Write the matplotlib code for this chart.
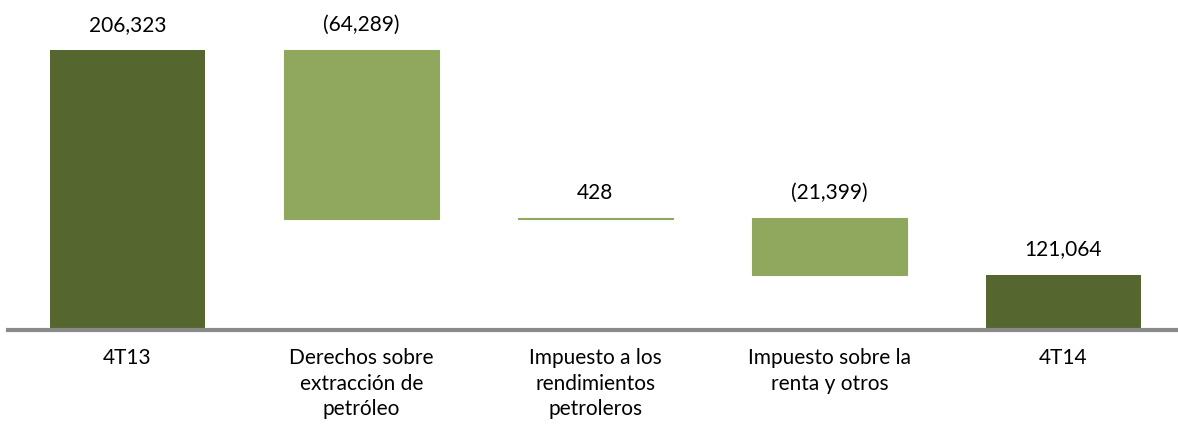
import numpy as np
import matplotlib.pyplot as plt

plt.rcParams['font.family'] = ['Lato', 'DejaVu Sans']

# Data
categories = ['4T13', 'Derechos sobre\nextracción de\npetróleo',
              'Impuesto a los\nrendimientos\npetroleros',
              'Impuesto sobre la\nrenta y otros', '4T14']
start_value = 206323
changes = [-64289, 428, -21399]
end_value = 121064

dark = '#55672F'
light = '#8FA85D'

fig = plt.figure(figsize=(11.78, 4.28), dpi=100)
ax = fig.add_axes([8 / 1178, 98 / 428, 1 - 8 / 1178, 330 / 428])

x = np.arange(len(categories))
w = 0.66

# totals
ax.bar(x[0], start_value - 100000, bottom=100000, width=w, color=dark)
ax.bar(x[-1], end_value - 100000, bottom=100000, width=w, color=dark)

# changes
level = start_value
tops = [start_value]
for i, d in enumerate(changes):
    lo = min(level, level + d)
    ax.bar(x[i + 1], abs(d), bottom=lo, width=w, color=light,
           edgecolor=light, linewidth=0.8)
    tops.append(max(level, level + d))
    level += d
tops.append(end_value)

def fmt(v):
    return f'({abs(v):,})' if v < 0 else f'{v:,}'

labels = [fmt(start_value)] + [fmt(d) for d in changes] + [fmt(end_value)]
for xi, t, lab in zip(x, tops, labels):
    ax.annotate(lab, (xi, t), xytext=(0, 11), textcoords='offset points',
                ha='center', va='bottom', fontsize=15)

ax.set_xlim(-0.51, 4.49)
ax.set_ylim(100000, 225330)
ax.set_yticks([])
ax.set_xticks(x)
ax.set_xticklabels(categories, fontsize=15, linespacing=1.35)
ax.tick_params(axis='x', length=0, pad=13)
for s in ['top', 'right', 'left']:
    ax.spines[s].set_visible(False)
ax.spines['bottom'].set_color('#8A8A8A')
ax.spines['bottom'].set_linewidth(3)

fig.savefig('out.png', dpi=100)
